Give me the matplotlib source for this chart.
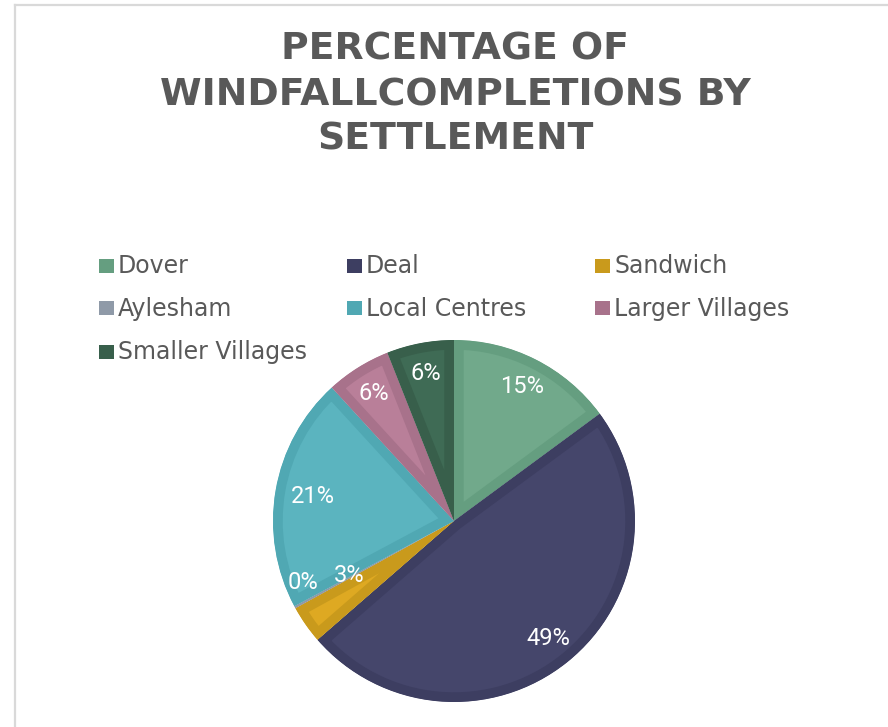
import matplotlib
matplotlib.use("Agg")
import matplotlib.pyplot as plt
from matplotlib.patches import Rectangle
from matplotlib.lines import Line2D
import numpy as np

# ---- data ----
categories = ["Dover", "Deal", "Sandwich", "Aylesham", "Local Centres",
              "Larger Villages", "Smaller Villages"]
values = [14.9, 48.7, 3.4, 0.2, 21.0, 5.8, 6.0]
title_lines = ["PERCENTAGE OF", "WINDFALLCOMPLETIONS BY", "SETTLEMENT"]

# ---- style ----
face_colors = ["#71a98b", "#45466b", "#dea922", "#9ba6b4", "#5bb4bf", "#b97f99", "#3f6b55"]
edge_colors = ["#659e80", "#3d3e61", "#c99a1c", "#8f9aa8", "#50a8b3", "#a8728b", "#385f4b"]

W, H = 888, 727
fig = plt.figure(figsize=(W / 100, H / 100), dpi=100)
fig.patch.set_facecolor("white")

def fx(px):
    return px / W

def fy(py):
    return 1 - py / H

# border lines (top and left)
fig.add_artist(Line2D([fx(15), fx(888)], [fy(5), fy(5)], transform=fig.transFigure,
                      color="#d9d9d9", lw=1.6))
fig.add_artist(Line2D([fx(15), fx(15)], [fy(5), fy(727)], transform=fig.transFigure,
                      color="#d9d9d9", lw=1.6))

# title
title_y = [50, 95, 140]
for line, y in zip(title_lines, title_y):
    fig.text(fx(455), fy(y), line, ha="center", va="center", fontsize=27.2,
             fontweight="bold", color="#595959", family="DejaVu Sans")

# legend (3 columns)
col_x = [106, 354, 602]
row_base = [273, 316, 359]
for i, (cat, col) in enumerate(zip(categories, edge_colors)):
    r, c = divmod(i, 3)
    sx = col_x[c]
    by = row_base[r]
    fig.add_artist(Rectangle((fx(sx - 7.5), fy(by - 0.5)), 15 / W, 14 / H,
                             transform=fig.transFigure, facecolor=col,
                             edgecolor="none"))
    fig.text(fx(sx + 12), fy(by), cat, ha="left", va="baseline", fontsize=17,
             color="#595959", family="DejaVu Sans")

# pie
R = 181
cx, cy = 454, 521
lim = 1.2
ax = fig.add_axes([fx(cx - R * lim), fy(cy + R * lim), 2 * R * lim / W, 2 * R * lim / H])
wedges, texts, autotexts = ax.pie(
    values, colors=face_colors, startangle=90, counterclock=False, radius=1,
    autopct="%.0f%%", pctdistance=0.83,
    textprops=dict(color="white", fontsize=17, family=["Roboto", "DejaVu Sans"]),
    wedgeprops=dict(linewidth=0))
for w, ec in zip(wedges, edge_colors):
    w.set_edgecolor(ec)
    w.set_linewidth(14)
    w.set_clip_on(True)
    w.set_clip_path(w)
ax.set_xlim(-lim, lim)
ax.set_ylim(-lim, lim)
ax.axis("off")

# adjust small-slice label positions like the reference (best fit)
def pos(angle_deg, rfrac):
    a = np.deg2rad(angle_deg)
    return rfrac * np.cos(a), rfrac * np.sin(a)

autotexts[2].set_position(pos(207.4, 0.65))
autotexts[3].set_position(pos(202.0, 0.90))
autotexts[4].set_position(pos(170.3, 0.79))

fig.savefig("out.png", dpi=100, facecolor="white")
